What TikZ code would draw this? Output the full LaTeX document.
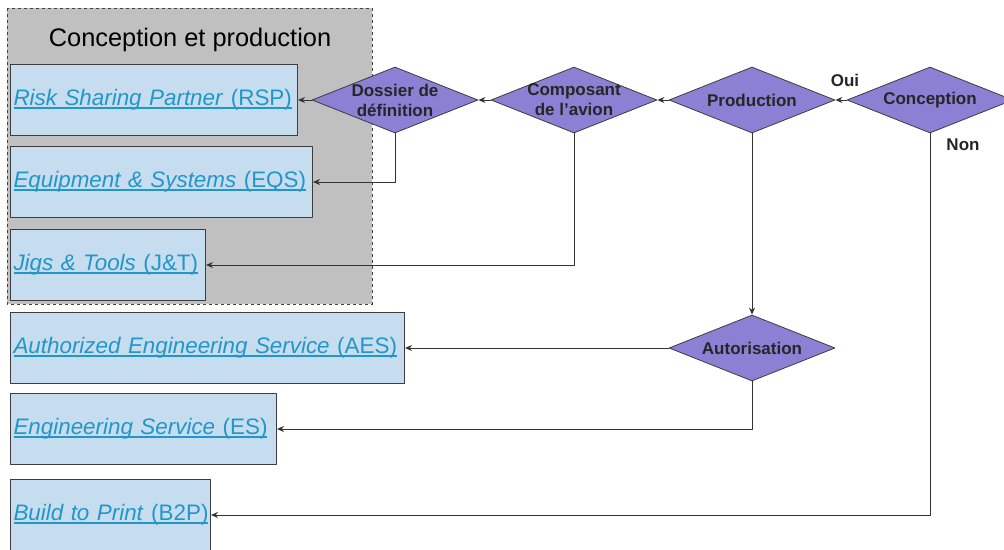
\documentclass[tikz,border=0pt]{standalone}
\usepackage{fontspec}
\setmainfont{Liberation Sans}
\usetikzlibrary{shapes.geometric,arrows.meta}
\definecolor{boxfill}{RGB}{198,221,240}
\definecolor{boxline}{RGB}{60,60,60}
\definecolor{linktext}{RGB}{35,150,200}
\definecolor{decfill}{RGB}{140,128,212}
\definecolor{grpfill}{RGB}{192,192,192}
\newsavebox\linkbox
\newcommand\partlink[2]{\sbox\linkbox{\textit{#1} (#2)}%
  \rlap{\rule[-3pt]{\wd\linkbox}{1.4pt}}\usebox\linkbox}
\begin{document}
\begin{tikzpicture}[x=1pt,y=-1pt,>={Stealth[length=7pt,width=6pt]}, line join=round,
  partner/.style={draw=boxline, fill=boxfill, line width=1pt, anchor=west, minimum height=71pt,
    inner xsep=3pt, align=left, text=linktext, font=\fontsize{22.4}{26}\selectfont},
  decision/.style={diamond, draw=boxline, fill=decfill, line width=0.8pt,
    minimum width=166pt, minimum height=66pt, inner sep=0pt},
  dtxt/.style={font=\fontsize{17}{20}\selectfont\bfseries, text=black!85, align=center},
  link/.style={->, draw=black!80, line width=1pt}]
\useasboundingbox (0,0) rectangle (1004,549);
% groupe conception et production
\draw[fill=grpfill, draw=black!75, dashed, line width=0.8pt] (7,8) rectangle (372,304);
\node[font=\fontsize{25.4}{28}\selectfont] (titre) at (190,40) {Conception et production};
% partenaires
\node[partner, text width=281pt] (rsp) at (10,100) {\partlink{Risk Sharing Partner}{RSP}};
\node[partner, text width=296pt] (eqs) at (10,182) {\partlink{Equipment \& Systems}{EQS}};
\node[partner, text width=189pt] (jt) at (10,265) {\partlink{Jigs \& Tools}{J\&T}};
\node[partner, text width=388pt] (aes) at (10,348) {\partlink{Authorized Engineering Service}{AES}};
\node[partner, text width=260pt] (es) at (10,429) {\partlink{Engineering Service}{ES}};
\node[partner, text width=194pt] (b2p) at (10,515) {\partlink{Build to Print}{B2P}};
% decisions
\node[decision, label={[dtxt]center:Dossier de\\définition}] (dos) at (395,100) {};
\node[decision, label={[dtxt]center:Composant\\de l’avion}] (comp) at (574,100) {};
\node[decision, label={[dtxt]center:Production}] (prod) at (752,100) {};
\node[decision, label={[dtxt]center:Conception}] (conc) at (930,100) {};
\node[decision, label={[dtxt]center:Autorisation}] (auto) at (752,348) {};
\node[dtxt] (oui) at (845,80) {Oui};
\node[dtxt] (non) at (963,145) {Non};
% liens
\draw[link] (conc.west) -- (prod.east);
\draw[link] (prod.west) -- (comp.east);
\draw[link] (comp.west) -- (dos.east);
\draw[link] (dos.west) -- (rsp.east);
\draw[link] (dos.south) |- (eqs.east);
\draw[link] (comp.south) |- (jt.east);
\draw[link] (prod.south) -- (auto.north);
\draw[link] (auto.west) -- (aes.east);
\draw[link] (auto.south) |- (es.east);
\draw[link] (conc.south) |- (b2p.east);
\end{tikzpicture}
\end{document}
